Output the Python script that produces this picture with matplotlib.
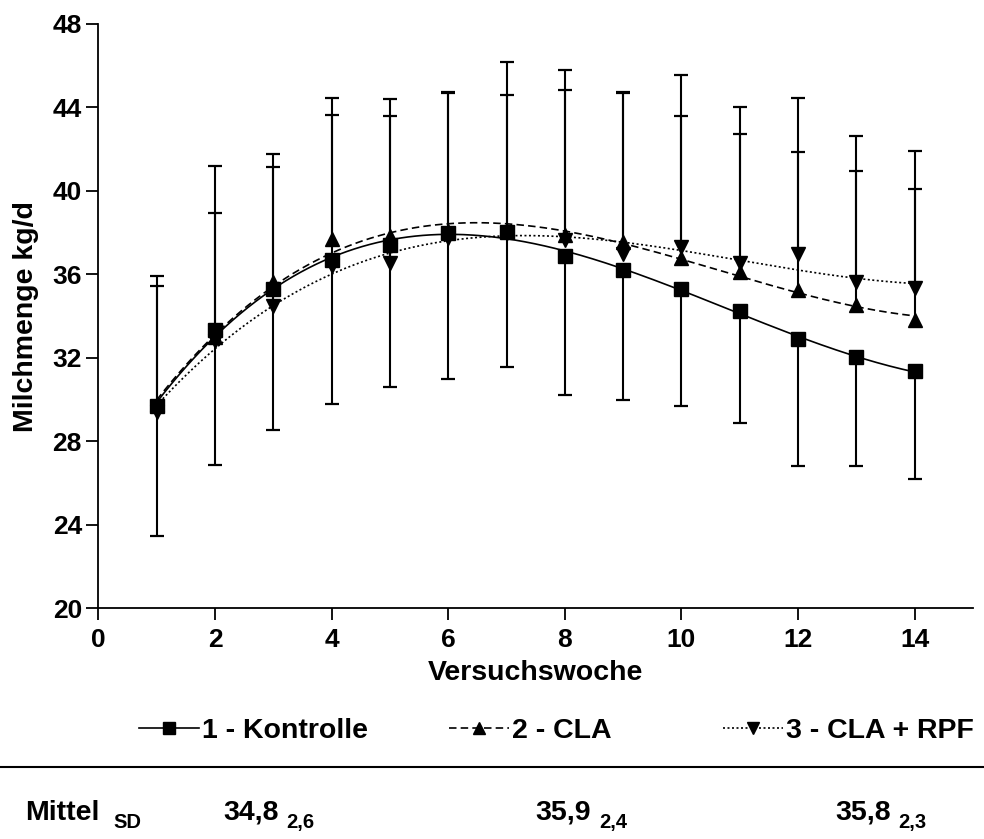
import numpy as np
import matplotlib
matplotlib.use("Agg")
import matplotlib.pyplot as plt
from matplotlib.lines import Line2D

plt.rcParams["font.family"] = ["Liberation Sans", "DejaVu Sans"]
plt.rcParams["font.weight"] = "bold"

# --- Daten: Milchmenge (kg/d) je Versuchswoche ---
wochen = np.arange(1, 15)

kontrolle = [29.7, 33.35, 35.3, 36.7, 37.4, 38.0, 38.05, 36.9, 36.2, 35.3, 34.25, 32.9, 32.05, 31.35]
cla = [29.8, 33.0, 35.65, 37.7, 37.85, 38.1, 38.1, 37.9, 37.55, 36.8, 36.1, 35.25, 34.55, 33.8]
cla_rpf = [29.4, 32.8, 34.5, 36.4, 36.55, 37.75, 38.0, 37.65, 37.0, 37.3, 36.55, 37.0, 35.65, 35.35]

# Standardabweichungen (Kontrolle nach unten, CLA-Gruppen nach oben)
sd_kontrolle = [6.25, 6.5, 6.75, 6.9, 6.8, 7.0, 6.5, 6.7, 6.2, 5.6, 5.35, 6.1, 5.25, 5.15]
sd_cla = [6.1, 8.2, 6.1, 6.75, 6.55, 6.65, 8.1, 6.95, 7.2, 6.8, 6.65, 6.6, 6.4, 6.3]
sd_cla_rpf = [6.05, 6.15, 6.65, 7.25, 7.05, 6.95, 6.6, 8.15, 7.7, 8.25, 7.45, 7.45, 7.0, 6.55]

gruppen = ["1 - Kontrolle", "2 - CLA", "3 - CLA + RPF"]
mittel = ["34,8", "35,9", "35,8"]
mittel_sd = ["2,6", "2,4", "2,3"]

fig = plt.figure(figsize=(9.84, 8.39), dpi=100)
ax = fig.add_axes([0.0999, 0.275, 0.889, 0.6964])

stile = [
    dict(ls="-", marker="s"),
    dict(ls=(0, (4.5, 2.5)), marker="^"),
    dict(ls=(0, (1.2, 1.5)), marker="v"),
]
reihen = [(cla, sd_cla, +1, stile[1]),
          (cla_rpf, sd_cla_rpf, +1, stile[2]),
          (kontrolle, sd_kontrolle, -1, stile[0])]

xs = np.linspace(1, 14, 300)
for werte, sd, richtung, st in reihen:
    werte = np.asarray(werte)
    ende = werte + richtung * np.asarray(sd)
    # Fehlerbalken einseitig
    ax.vlines(wochen, werte, ende, color="black", lw=1.5, zorder=2)
    ax.plot(wochen, ende, ls="none", marker="_", markersize=9.5,
            mew=1.6, color="black", zorder=2)
    # Polynomfit 3. Ordnung
    koeff = np.polyfit(wochen, werte, 3)
    ax.plot(xs, np.polyval(koeff, xs), color="black", lw=1.2, ls=st["ls"], zorder=3)
    ax.plot(wochen, werte, ls="none", marker=st["marker"], markersize=9.5,
            color="black", zorder=4)

ax.set_xlim(0, 15)
ax.set_ylim(20, 48)
ax.set_xticks(np.arange(0, 15, 2))
ax.set_yticks(np.arange(20, 49, 4))
for s in ["top", "right"]:
    ax.spines[s].set_visible(False)
for s in ["left", "bottom"]:
    ax.spines[s].set_linewidth(1.3)
ax.tick_params(axis="both", length=8.3, width=1.3, labelsize=19)
ax.tick_params(axis="x", pad=6)
ax.tick_params(axis="y", pad=3.5)
ax.set_xlabel("Versuchswoche", fontsize=20.5, fontweight="bold", labelpad=6)
ax.set_ylabel("Milchmenge kg/d", fontsize=20.5, fontweight="bold", labelpad=10)

# Legende: jeder Eintrag einzeln platziert
for st, name, x0 in zip(stile, gruppen, [0.1413, 0.4563, 0.7348]):
    h = Line2D([], [], color="black", lw=1.2, ls=st["ls"], marker=st["marker"],
               markersize=8)
    fig.legend([h], [name], loc="center left", bbox_to_anchor=(x0, 0.1287),
               frameon=False, fontsize=20.5, handlelength=2.1, handletextpad=0.1,
               borderpad=0, borderaxespad=0, numpoints=1)

# Trennlinie und Mittelwerte
fig.add_artist(Line2D([0, 1], [0.0858, 0.0858], transform=fig.transFigure,
                      color="black", lw=1.5))
fig.text(0.0254, 0.0227, "Mittel", fontsize=20.5, fontweight="bold", va="baseline")
fig.text(0.1148, 0.0131, "SD", fontsize=14.5, fontweight="bold", va="baseline")
for xm, xsd, m, sd in zip([0.2266, 0.5437, 0.8486], [0.2907, 0.6087, 0.9126],
                          mittel, mittel_sd):
    fig.text(xm, 0.0227, m, fontsize=20.5, fontweight="bold", va="baseline")
    fig.text(xsd, 0.0131, sd, fontsize=14.5, fontweight="bold", va="baseline")

fig.savefig("out.png", dpi=100)
